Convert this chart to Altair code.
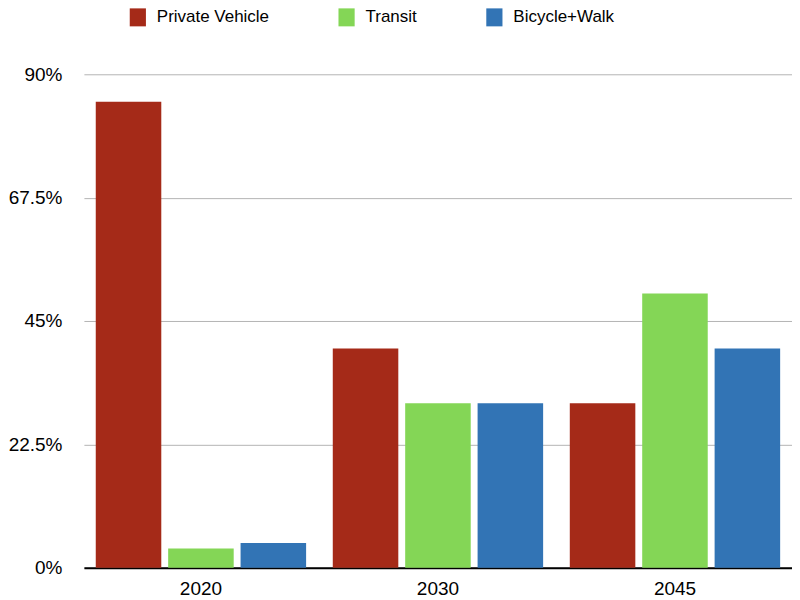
import altair as alt
import pandas as pd

years = ["2020", "2030", "2045"]
modes = ["Private Vehicle", "Transit", "Bicycle+Walk"]
private_vehicle = [85, 40, 30]
transit = [3.5, 30, 50]
bicycle_walk = [4.5, 30, 40]
colors = ["#A52A18", "#84D656", "#3274B5"]
y_ticks = [0, 22.5, 45, 67.5, 90]

rows = []
for i, yr in enumerate(years):
    for m, vals in zip(modes, [private_vehicle, transit, bicycle_walk]):
        rows.append({"year": yr, "mode": m, "share": vals[i]})
df = pd.DataFrame(rows)

font = "Liberation Sans"

chart = alt.Chart(df).mark_bar().encode(
    x=alt.X(
        "year:N", sort=years, title=None,
        scale=alt.Scale(paddingInner=0.1125, paddingOuter=0.05),
        axis=alt.Axis(labelAngle=0, ticks=False, tickSize=0, labelPadding=12,
                      domainColor="black", domainWidth=2, labelFontSize=19,
                      labelFont=font, labelColor="black", grid=False),
    ),
    xOffset=alt.XOffset("mode:N", sort=modes,
                        scale=alt.Scale(paddingInner=0.095, paddingOuter=0)),
    y=alt.Y(
        "share:Q", title=None,
        scale=alt.Scale(domain=[0, 90], nice=False, zero=True),
        axis=alt.Axis(values=y_ticks, labelExpr="datum.value + '%'", ticks=False,
                      tickSize=0, domain=False, labelPadding=22, gridColor="#b4b4b4",
                      gridWidth=1, labelFontSize=19, labelFont=font, labelColor="black"),
    ),
    color=alt.Color(
        "mode:N", sort=modes,
        scale=alt.Scale(domain=modes, range=colors),
        legend=alt.Legend(title=None, orient="none", legendX=45, legendY=-66,
                          direction="horizontal",
                          symbolType="M-0.9,-1H0.9V1H-0.9Z", symbolSize=324,
                          symbolStrokeWidth=0, labelFontSize=17, labelFont=font,
                          labelColor="black", labelOffset=10, columnPadding=68,
                          padding=0, symbolOpacity=1),
    ),
).properties(width=709, height=494, padding=0).configure_view(stroke=None)

chart.save("out.html", embed_options={"renderer": "svg", "actions": False})
